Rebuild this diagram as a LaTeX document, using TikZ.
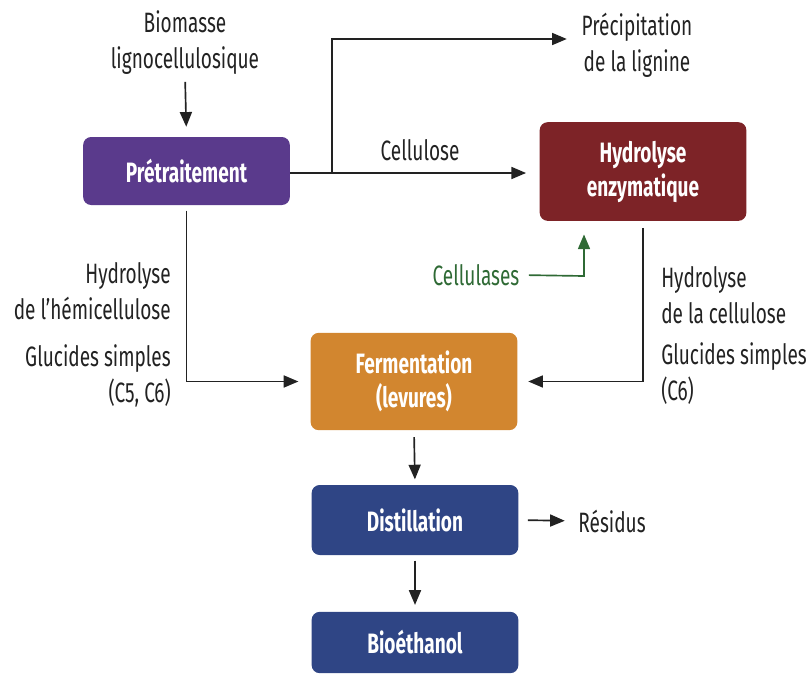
\documentclass[tikz,border=0pt]{standalone}
\usepackage{fontspec}
\setmainfont{Fira Sans}[FakeStretch=0.68]
\usetikzlibrary{arrows.meta}
\definecolor{cpurple}{HTML}{5A3A8C}
\definecolor{cred}{HTML}{7D2327}
\definecolor{corange}{HTML}{D2862F}
\definecolor{cblue}{HTML}{2F4585}
\definecolor{cgreen}{HTML}{2F6A35}
\definecolor{ctext}{HTML}{222222}
\begin{document}
\begin{tikzpicture}[x=0.75pt,y=-0.75pt,
  box/.style={rounded corners=6pt, text=white, align=center, inner sep=0pt,
    font=\fontsize{21}{25.5}\selectfont\bfseries, minimum width=155pt},
  lbl/.style={font=\fontsize{21}{27}\selectfont, inner sep=0pt, text=ctext},
  arr/.style={line width=1.25pt, draw=ctext, -{Triangle[length=11pt,width=9pt]}},
]
\useasboundingbox (0,0) rectangle (809,675);
% boxes
\node[box, fill=cpurple, minimum height=51pt] (pre) at (186.5,171) {Prétraitement};
\node[box, fill=cred, minimum height=74pt] (hyd) at (643,171.5) {Hydrolyse\\enzymatique};
\node[box, fill=corange, minimum height=73pt] (ferm) at (414,381.5) {Fermentation\\(levures)};
\node[box, fill=cblue, minimum height=52.5pt] (dist) at (415,520) {Distillation};
\node[box, fill=cblue, minimum height=46pt] (bio) at (415,642.5) {Bioéthanol};
% labels
\node[lbl, align=center] (bm) at (185,43) {Biomasse\\lignocellulosique};
\node[lbl, align=center] (prec) at (637,45) {Précipitation\\de la lignine};
\node[lbl] (cellu) at (420,150) {Cellulose};
\node[lbl, align=right, anchor=east] (hemi) at (171,291) {Hydrolyse\\de l’hémicellulose};
\node[lbl, align=right, anchor=east] (gl1) at (171,376) {Glucides simples\\(C5, C6)};
\node[lbl, align=left, anchor=west] (hcel) at (661,295) {Hydrolyse\\de la cellulose};
\node[lbl, align=left, anchor=west] (gl2) at (661,374) {Glucides simples\\(C6)};
\node[lbl, text=cgreen] (cel) at (476,275) {Cellulases};
\node[lbl] (res) at (612,521) {Résidus};
% connectors
\coordinate (br) at (332,173);
\coordinate (top) at (332,39);
\coordinate (cc) at (584,276);
\draw[arr, shorten <=5pt, shorten >=7.5pt] (bm.south) -- (pre.north);
\draw[arr, shorten >=10pt] (pre.east |- br) -- (br -| hyd.west);
\draw[arr, shorten >=11pt] (br) -- (top) -- (top -| prec.west);
\draw[arr, shorten <=4pt, shorten >=9pt] (pre.south) |- (ferm.west);
\draw[arr, shorten <=5pt, shorten >=8pt] (hyd.south) |- (ferm.east);
\draw[arr, draw=cgreen, -{Triangle[length=11pt,width=9pt,fill=cgreen]}, shorten <=7pt, shorten >=10pt] (cel.east) -- (cc) -- (cc |- hyd.south);
\draw[arr, shorten <=5pt, shorten >=4pt] (ferm.south) -- (dist.north);
\draw[arr, shorten <=4pt, shorten >=5pt] (dist.south) -- (bio.north);
\draw[arr, shorten <=7pt, shorten >=10pt] (dist.east) -- (res.west);
\end{tikzpicture}
\end{document}
